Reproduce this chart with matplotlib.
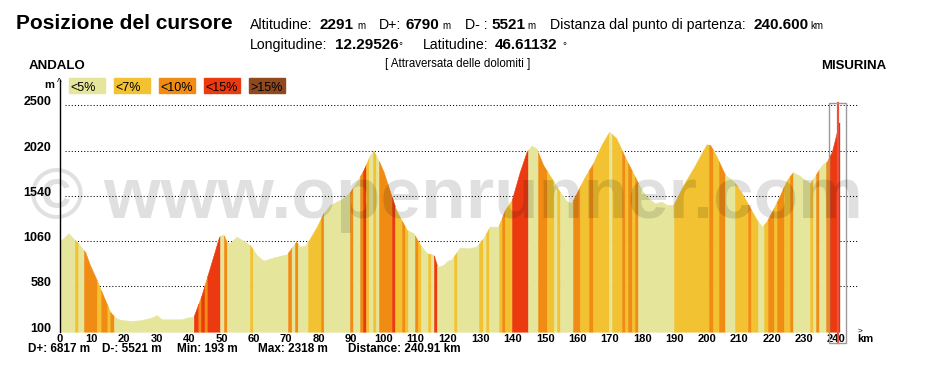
import numpy as np
import matplotlib
matplotlib.use('Agg')
import matplotlib.pyplot as plt
from matplotlib.patches import Rectangle

# elevation profile (km, m)
km = [0.0, 1.5, 2.7, 4.8, 6.0, 7.4, 7.9, 9.4, 11.5, 13.0, 14.3, 15.6, 16.9, 18.0, 19.2,
      22.3, 25.4, 28.5, 30.0, 31.6, 37.8, 39.3, 41.4, 43.9, 47.0, 49.3, 50.6, 51.6, 52.6,
      54.7, 57.2, 58.8, 60.9, 63.0, 66.0, 70.2, 71.7, 73.1, 74.3, 75.9, 77.4, 79.5, 81.5,
      83.6, 85.6, 87.7, 89.8, 91.8, 93.9, 95.9, 97.0, 98.5, 100.1, 102.1, 104.2, 107.3,
      109.4, 111.4, 113.5, 115.6, 116.6, 117.1, 118.6, 119.8, 121.1, 123.7, 126.2, 128.8,
      130.9, 132.9, 135.5, 137.6, 139.7, 142.2, 144.3, 145.8, 147.3, 149.4, 152.0, 154.5,
      156.6, 158.1, 160.2, 162.3, 164.8, 167.4, 169.8, 172.0, 174.6, 177.2, 179.8, 181.9,
      183.9, 186.0, 187.6, 189.6, 192.7, 195.8, 198.9, 199.9, 201.0, 203.0, 205.6, 207.1,
      208.7, 210.8, 212.8, 215.4, 217.0, 218.5, 220.6, 222.6, 224.7, 226.5, 228.3, 230.3,
      231.9, 233.4, 235.5, 237.0, 238.6, 240.1, 240.6, 240.91]
elev = [1054, 1100, 1143, 1072, 1030, 966, 948, 807, 648, 524, 418, 312, 259, 235, 224,
        213, 224, 249, 277, 231, 231, 249, 259, 489, 842, 1107, 1132, 1054, 1036,
        1107, 1054, 1019, 913, 853, 885, 920, 991, 1054, 1001, 1012, 1090, 1213, 1355,
        1443, 1478, 1514, 1584, 1690, 1814, 1973, 2016, 1920, 1796, 1584, 1372, 1178,
        1143, 1019, 931, 915, 800, 789, 807, 850, 867, 991, 984, 1001,
        1090, 1213, 1213, 1390, 1496, 1796, 2009, 2072, 2044, 1867, 1726, 1584,
        1485, 1461, 1602, 1743, 1885, 2079, 2220, 2150, 1955, 1779, 1602, 1514,
        1461, 1478, 1443, 1443, 1655, 1832, 2026, 2086, 2079, 1955, 1761, 1726,
        1673, 1567, 1443, 1284, 1213, 1273, 1408, 1549, 1708, 1789, 1761, 1708,
        1673, 1754, 1867, 1902, 2009, 2214, 2291, 2318]

# slope bands: end km of each band and slope class (0:<5% 1:<7% 2:<10% 3:<15% 4:>15%)
band_end = [4.8, 5.8, 7.57, 11.6, 12.9, 14.8, 15.7, 16.85, 41.5, 42.9, 43.7, 44.8, 45.7,
            49.6, 50.8, 51.7, 58.85, 59.7, 70.6, 71.7, 72.75, 73.6, 76.8, 80.8, 81.6,
            89.74, 90.67, 92.83, 93.76, 94.69, 95.61, 96.85, 97.78, 98.70, 102.72, 103.65,
            105.81, 106.74, 107.66, 109.82, 110.75, 111.68, 113.84, 114.77, 115.69, 116.62,
            121.87, 122.80, 129.60, 130.83, 131.76, 132.68, 135.77, 136.70, 137.63, 139.79,
            144.73, 147.82, 150.60, 152.77, 153.69, 154.62, 158.63, 160.80, 163.58, 164.81,
            169.75, 170.68, 173.77, 174.70, 175.62, 176.86, 177.79, 178.72, 189.84, 200.65,
            201.89, 203.74, 205.60, 208.69, 212.70, 213.63, 215.79, 217.64, 218.88, 220.73,
            221.66, 223.82, 225.67, 226.60, 231.85, 232.78, 233.71, 234.63, 236.79, 237.72,
            240.3, 240.91]
band_cls = [0, 1, 0, 2, 1, 2, 1, 2, 0, 3, 2, 3, 2,
            3, 0, 2, 0, 1, 0, 2, 0, 2, 0, 1, 2,
            0, 2, 0, 2, 3, 1, 0, 1, 0, 2, 3,
            1, 2, 1, 0, 2, 1, 0, 1, 0, 3,
            0, 1, 0, 1, 0, 1, 0, 1, 2, 1,
            3, 0, 2, 1, 0, 1, 0, 2, 1, 2,
            1, 0, 1, 2, 1, 2, 1, 2, 0, 1,
            2, 1, 2, 0, 1, 2, 1, 0, 1, 2,
            1, 2, 1, 2, 0, 1, 0, 2, 0, 2,
            3, 4]

legend_labels = ['<5%', '<7%', '<10%', '<15%', '>15%']
slope_colors = ['#E5E59B', '#F2C232', '#F08C14', '#EB3A10', '#8E4A1E']
yticks = [100, 580, 1060, 1540, 2020, 2500]
xticks = list(range(0, 241, 10))
cursor_km = 240.6

W, H = 927, 369
fig = plt.figure(figsize=(W / 100, H / 100), dpi=100)
fig.patch.set_facecolor('white')


def fx(x):
    return x / W


def fy(y):
    return 1 - y / H


FONT = 'Liberation Sans'

ax = fig.add_axes([fx(59.5), fy(331.7), 798 / W, (331.7 - 80) / H])
ax.set_xlim(0, 246.5)
ax.set_ylim(100, 100 + (331.7 - 80) * 10.6)
for s in ['top', 'right', 'bottom']:
    ax.spines[s].set_visible(False)
ax.spines['left'].set_linewidth(1)

ax.hlines(yticks, 1.8, 246.5, colors='black', linestyles=(0, (1, 2)), lw=0.75, zorder=1)

start = 0.0
for end, c in zip(band_end, band_cls):
    xs = np.linspace(start, end, max(2, int((end - start) * 20)))
    ys = np.interp(xs, km, elev)
    ax.fill_between(xs, 100, ys, color=slope_colors[c], lw=0.4, zorder=2)
    start = end

# cursor
ax.plot([cursor_km, cursor_km], [-20, 2525], color='#EE5040', lw=1.6, zorder=4, clip_on=False)
ax.add_patch(Rectangle((cursor_km - 2.8, -16), 5.25, 2537, fill=False, ec='#9a9a9a',
                       lw=1, zorder=5, clip_on=False))

ax.set_xticks(xticks)
ax.set_xticklabels([str(t) for t in xticks], fontfamily=FONT, fontweight='bold', fontsize=8)
ax.set_yticks(yticks)
ax.set_yticklabels([str(t) for t in yticks], fontfamily=FONT, fontweight='bold', fontsize=9)
for lbl in ax.get_yticklabels():
    lbl.set_verticalalignment('baseline')
ax.tick_params(axis='both', length=0)
ax.tick_params(axis='x', pad=1.5)
ax.tick_params(axis='y', pad=6)

# watermark
fig.text(fx(30), fy(218), '\u00a9 www.openrunner.com', fontsize=52.5, fontweight='bold',
         family=FONT, color='black', alpha=0.12, zorder=10)

# header
fig.text(fx(16), fy(29.3), 'Posizione del cursore', fontsize=15, fontweight='bold', family=FONT)
head = [
    (250, 29.3, 'Altitudine:', 'normal', 10.2), (320, 29.3, '2291', 'bold', 11),
    (357, 29.3, 'm', 'normal', 7), (379, 29.3, 'D+:', 'normal', 10.2),
    (405, 29.3, '6790', 'bold', 11), (442, 29.3, 'm', 'normal', 7),
    (465, 29.3, 'D- :', 'normal', 10.2), (491, 29.3, '5521', 'bold', 11),
    (527, 29.3, 'm', 'normal', 7), (550, 29.3, 'Distanza dal punto di partenza:', 'normal', 10.2),
    (753, 29.3, '240.600', 'bold', 11), (810, 29.3, 'km', 'normal', 7),
    (250, 49.3, 'Longitudine:', 'normal', 10.2), (335, 49.3, '12.29526', 'bold', 11),
    (398, 49.3, '\u00b0', 'normal', 7), (423, 49.3, 'Latitudine:', 'normal', 10.2),
    (495, 49.3, '46.61132', 'bold', 11), (562, 49.3, '\u00b0', 'normal', 7),
]
for x, y, t, w, s in head:
    fig.text(fx(x), fy(y), t, fontsize=s, fontweight=w, family=FONT, va='baseline')

fig.text(fx(29), fy(69.3), 'ANDALO', fontsize=9.5, fontweight='bold', family=FONT, va='baseline')
fig.text(fx(821), fy(69.3), 'MISURINA', fontsize=9.5, fontweight='bold', family=FONT, va='baseline')
fig.text(fx(458), fy(67), '[ Attraversata delle dolomiti ]', fontsize=8.3, family=FONT,
         ha='center', va='baseline')

# legend boxes
for i, (lab, col) in enumerate(zip(legend_labels, slope_colors)):
    x0 = 69 + 45 * i
    fig.patches.append(Rectangle((fx(x0), fy(93.3)), 36 / W, 15 / H, transform=fig.transFigure,
                                 color=col, zorder=3))
    fig.text(fx(x0 + 1.5), fy(91), lab, fontsize=9, family=FONT, va='baseline', zorder=4)

fig.text(fx(44), fy(88), 'm', fontsize=8, fontweight='bold', family=FONT, va='baseline')
fig.text(fx(57), fy(86), '^', fontsize=7, family=FONT, va='baseline')
fig.text(fx(857), fy(342), 'km', fontsize=8, fontweight='bold', family=FONT, va='baseline')
fig.text(fx(858), fy(331), '>', fontsize=6, family=FONT, va='center')

# summary line
summary = [(27.7, 'D+: 6817 m'), (101.7, 'D-: 5521 m'), (177, 'Min: 193 m'),
           (257.7, 'Max: 2318 m'), (347.7, 'Distance: 240.91 km')]
for x, t in summary:
    fig.text(fx(x), fy(352.3), t, fontsize=8.5, fontweight='bold', family=FONT, va='baseline')

fig.savefig('out.png', dpi=100)
